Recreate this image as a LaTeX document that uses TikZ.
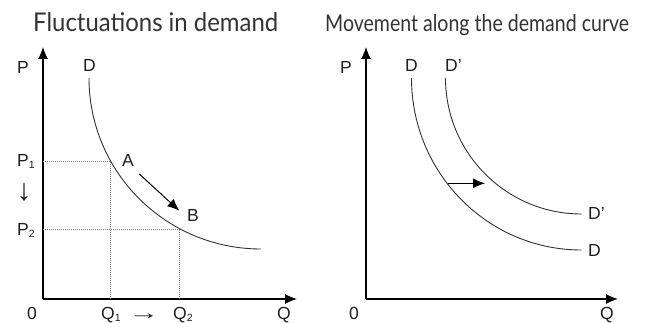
\documentclass[tikz,border=0pt]{standalone}
\usepackage{fontspec}
\setmainfont{Liberation Sans}
\newfontfamily\titlefont{Lato}
\usetikzlibrary{arrows.meta}
\definecolor{ink}{HTML}{1E1E1E}
\definecolor{curvec}{HTML}{333333}
\definecolor{titlec}{HTML}{333333}
\definecolor{dotc}{HTML}{808080}
\newcommand{\lsub}[1]{\raisebox{-0.2ex}{\fontsize{10.5}{10.5}\selectfont #1}}
\tikzset{
  lab/.style={font=\fontsize{17.5}{17.5}\selectfont, text=ink, inner sep=0pt, anchor=base west},
  glypharrow/.style={font=\fontsize{30}{30}\selectfont, text=ink, inner sep=0pt, anchor=center},
  ttl/.style={text=titlec, inner sep=0pt, anchor=base west},
  axis/.style={line width=1.1pt, black, -{Latex[length=12pt,width=10pt]}},
  dcurve/.style={line width=0.9pt, curvec},
  dotline/.style={line width=0.8pt, dotc, dash pattern=on 1pt off 1pt},
  movearrow/.style={line width=1pt, black, -{Latex[length=12pt,width=10pt]}},
}
\begin{document}
\begin{tikzpicture}[x=1pt,y=-1pt]
\useasboundingbox (0,0) rectangle (646,323);

% titles
\node[ttl] (t1) at (33,32) {\resizebox{245pt}{19pt}{\titlefont Fluctuations in demand}};
\node[ttl] (t2) at (325,32) {\resizebox{304pt}{17pt}{\titlefont Movement along the demand curve}};

% ---------- left panel ----------
\coordinate (o1) at (43,299);
\coordinate (ytop1) at (43,47);
\coordinate (xend1) at (297,299);
\draw[axis] (o1) -- (ytop1);
\draw[axis] (o1) -- (xend1);

\coordinate (d1s) at (89,78);
\coordinate (d1e) at (261,249);
\draw[dcurve] (d1s) .. controls (89,172.4) and (166,249) .. (d1e);

\coordinate (pA) at (110,161);
\coordinate (pB) at (179.5,229);
\coordinate (yA) at (43,161);
\coordinate (yB) at (43,229);
\coordinate (xA) at (110,299);
\coordinate (xB) at (179.5,299);
\draw[dotline] (yA) -- (pA) -- (xA);
\draw[dotline] (yB) -- (pB) -- (xB);

\coordinate (mvs) at (139.3,174);
\coordinate (mve) at (179.3,210.7);
\draw[movearrow] (mvs) -- (mve);

\node[lab] (lP) at (17,74) {P};
\node[lab] (lD) at (83,72) {D};
\node[lab] (lP1) at (17,167) {P\lsub{1}};
\node[glypharrow] (ldown) at (24,193) {↓};
\node[lab] (lP2) at (17,236) {P\lsub{2}};
\node[lab] (lA) at (122,167) {A};
\node[lab] (lB) at (187,222) {B};
\node[lab] (l0) at (27,320) {0};
\node[lab] (lQ1) at (101,320) {Q\lsub{1}};
\node[lab, anchor=base] (lright) at (144,320) {\scalebox{1.75}[1.1]{→}};
\node[lab] (lQ2) at (173,320) {Q\lsub{2}};
\node[lab] (lQ) at (277,320) {Q};

% ---------- right panel ----------
\coordinate (o2) at (366,299);
\coordinate (ytop2) at (366,47);
\coordinate (xend2) at (618,299);
\draw[axis] (o2) -- (ytop2);
\draw[axis] (o2) -- (xend2);

\coordinate (d2s) at (411.5,78);
\coordinate (d2e) at (581.5,250);
\draw[dcurve] (d2s) .. controls (411.5,173) and (487.6,250) .. (d2e);

\coordinate (d3s) at (445.5,78);
\coordinate (d3e) at (581.5,214);
\draw[dcurve] (d3s) .. controls (445.5,153.1) and (506.4,214) .. (d3e);

\coordinate (shs) at (448.3,183.3);
\coordinate (she) at (485,183.3);
\draw[movearrow] (shs) -- (she);

\node[lab] (rP) at (340,74) {P};
\node[lab] (rD) at (405,72) {D};
\node[lab] (rDp) at (445,72) {D’};
\node[lab] (rDpe) at (588,220) {D’};
\node[lab] (rDe) at (588,257) {D};
\node[lab] (r0) at (349,320) {0};
\node[lab] (rQ) at (600,320) {Q};
\end{tikzpicture}
\end{document}
